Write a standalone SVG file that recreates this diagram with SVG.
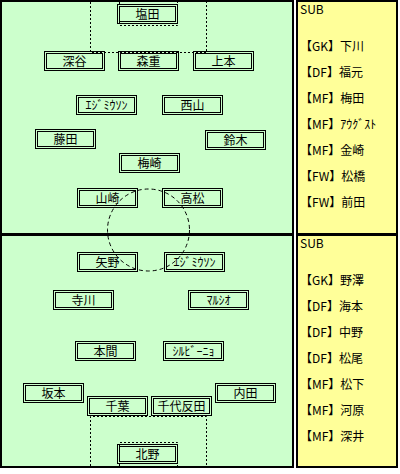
<svg xmlns="http://www.w3.org/2000/svg" width="400" height="474" viewBox="0 0 400 474">
<style>
.field{fill:#CCFFCC;stroke:#000;stroke-width:2}
.panel{fill:#FFFF99;stroke:#000;stroke-width:2}
.bo{fill:none;stroke:#000;stroke-width:1}
.lbl{font-family:"Noto Sans CJK JP","Noto Sans",sans-serif;font-size:12px;fill:#000;text-anchor:middle}
.sub{font-family:"Noto Sans CJK JP","Noto Sans",sans-serif;font-size:12px;fill:#000}
.dot{fill:none;stroke:#000;stroke-width:1;stroke-dasharray:2,2}
.circ{fill:none;stroke:#000;stroke-width:1;stroke-dasharray:4,3}
</style>
<defs>
<g id="box">
<rect class="bo" x="0.5" y="0.5" width="60" height="19"/>
<rect class="bo" x="2.5" y="2.5" width="56" height="15"/>
</g>
</defs>
<rect width="400" height="474" fill="#fff"/>
<g id="pitch">
<rect class="field" x="1" y="1" width="292" height="233"/>
<rect class="field" x="1" y="235" width="292" height="232"/>
<rect class="panel" x="297" y="1" width="100" height="233"/>
<rect class="panel" x="297" y="235" width="100" height="232"/>
<path class="dot" d="M90.5,2V52.5H206.5V2M119.5,2V25.5H177.5V2"/>
<path class="dot" d="M90.5,466V416.5H206.5V466M119.5,466V442.5H177.5V466"/>
</g>
<g id="subs-top" class="sub">
<text x="300" y="13.5">SUB</text>
<text x="300" y="51">【GK】下川</text>
<text x="300" y="77">【DF】福元</text>
<text x="300" y="103">【MF】梅田</text>
<text x="300" y="129">【MF】ｱｳｸﾞｽﾄ</text>
<text x="300" y="155">【MF】金崎</text>
<text x="300" y="181">【FW】松橋</text>
<text x="300" y="207">【FW】前田</text>
</g>
<g id="subs-bottom" class="sub">
<text x="300" y="247.5">SUB</text>
<text x="300" y="285">【GK】野澤</text>
<text x="300" y="311">【DF】海本</text>
<text x="300" y="337">【DF】中野</text>
<text x="300" y="363">【DF】松尾</text>
<text x="300" y="389">【MF】松下</text>
<text x="300" y="415">【MF】河原</text>
<text x="300" y="441">【MF】深井</text>
</g>
<g id="n-shioda" transform="translate(117,4)"><use href="#box"/><text class="lbl" x="30.5" y="14.5">塩田</text></g>
<g id="n-fukaya" transform="translate(44,51)"><use href="#box"/><text class="lbl" x="30.5" y="14.5">深谷</text></g>
<g id="n-morishige" transform="translate(118,51)"><use href="#box"/><text class="lbl" x="30.5" y="14.5">森重</text></g>
<g id="n-uemoto" transform="translate(193,51)"><use href="#box"/><text class="lbl" x="30.5" y="14.5">上本</text></g>
<g id="n-edmilson1" transform="translate(76,95)"><use href="#box"/><text class="lbl" x="30.5" y="14.5">ｴｼﾞﾐｳｿﾝ</text></g>
<g id="n-nishiyama" transform="translate(162,95)"><use href="#box"/><text class="lbl" x="30.5" y="14.5">西山</text></g>
<g id="n-fujita" transform="translate(35,129)"><use href="#box"/><text class="lbl" x="30.5" y="14.5">藤田</text></g>
<g id="n-suzuki" transform="translate(205,130)"><use href="#box"/><text class="lbl" x="30.5" y="14.5">鈴木</text></g>
<g id="n-umesaki" transform="translate(119,153)"><use href="#box"/><text class="lbl" x="30.5" y="14.5">梅崎</text></g>
<g id="n-yamazaki" transform="translate(77,188)"><use href="#box"/><text class="lbl" x="30.5" y="14.5">山崎</text></g>
<g id="n-takamatsu" transform="translate(162,188)"><use href="#box"/><text class="lbl" x="30.5" y="14.5">高松</text></g>
<g id="n-yano" transform="translate(77,252)"><use href="#box"/><text class="lbl" x="30.5" y="14.5">矢野</text></g>
<g id="n-edmilson2" transform="translate(164,252)"><use href="#box"/><text class="lbl" x="30.5" y="14.5">ｴｼﾞﾐｳｿﾝ</text></g>
<g id="n-terakawa" transform="translate(53,290)"><use href="#box"/><text class="lbl" x="30.5" y="14.5">寺川</text></g>
<g id="n-marcio" transform="translate(188,290)"><use href="#box"/><text class="lbl" x="30.5" y="14.5">ﾏﾙｼｵ</text></g>
<g id="n-honma" transform="translate(75,341)"><use href="#box"/><text class="lbl" x="30.5" y="14.5">本間</text></g>
<g id="n-silvinho" transform="translate(163,341)"><use href="#box"/><text class="lbl" x="30.5" y="14.5">ｼﾙﾋﾞｰﾆｮ</text></g>
<g id="n-sakamoto" transform="translate(23,383)"><use href="#box"/><text class="lbl" x="30.5" y="14.5">坂本</text></g>
<g id="n-uchida" transform="translate(215,383)"><use href="#box"/><text class="lbl" x="30.5" y="14.5">内田</text></g>
<g id="n-chiba" transform="translate(87,396)"><use href="#box"/><text class="lbl" x="30.5" y="14.5">千葉</text></g>
<g id="n-chiyotanda" transform="translate(151,396)"><use href="#box"/><text class="lbl" x="30.5" y="14.5">千代反田</text></g>
<g id="n-kitano" transform="translate(117,444)"><use href="#box"/><text class="lbl" x="30.5" y="14.5">北野</text></g>
<g id="connectors">
<circle class="circ" cx="148.5" cy="230" r="41"/>
</g>
</svg>
